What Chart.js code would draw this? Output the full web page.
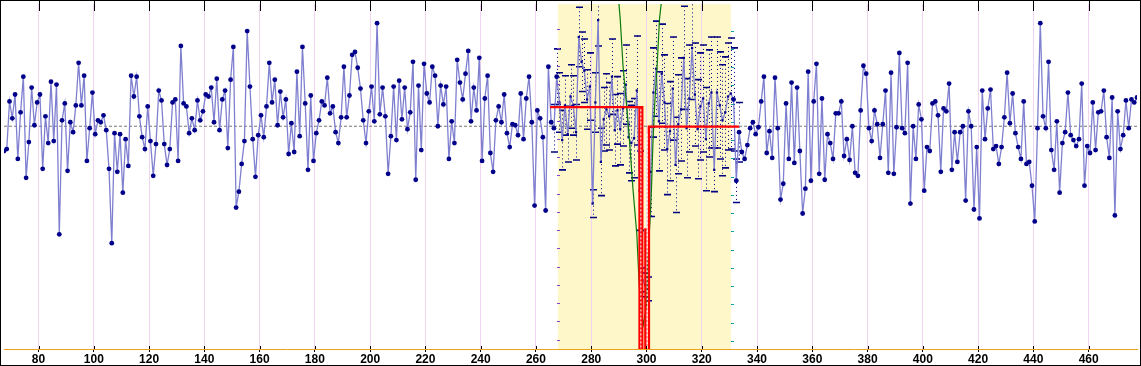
<!DOCTYPE html>
<html><head><meta charset="utf-8">
<script src="https://cdn.jsdelivr.net/npm/chart.js@4.4.1/dist/chart.umd.min.js"></script>
<style>html,body{margin:0;padding:0;background:#fff;overflow:hidden}canvas{display:block}</style>
</head><body><canvas id="c" width="1141" height="366"></canvas>
<script>
// ---- data ----
const firstX = 67.5;           // x of first observation, one observation per unit
const segment1 = [-25,-23,25,8,32,-33,14,50,-52,-16,39,1,24,32,-43,10,-17,45,-15,42,
  -109,6,23,-45,4,-6,21,64,21,51,-35,-2,34,-8,6,4,11,-4,-43,-118,
  -7,-46,-8,-67,-13,-40,51,30,50,10,-11,-23,20,-15,-50,-18,36,26,-18,-39,
  -23,24,27,-35,81,23,20,-7,8,-4,26,6,15];
const segment2 = [32,30,39,4,48,-4,27,36,-22,47,80,-82,-66,-38,-15,96,40,-13,-51,-9,
  11,-11,20,64,24,47,1,35,9,27,-28,3,-26,55,-10,80,23,-44,31,-35,
  -7,6,25,21,49,13,20,-6,-17,9,60,9,31,72,75,59,38,6,-17,15,
  40,5,104,12,39,10,-48,-10,40,-14];
const segment3 = [46,7,39,-3,14,65,-54,41,-24,63,33,24,60,51,0,41,22,40,-33,5,
  -17,67,44,27,53,76,5,39,16,69,-35,28,51,-27,-46,6,20,4,32,-7,
  -21,2,1,-9,33,-13,28,50,4,-80,16,8,-11,-85,60,4];
const eclipse = [-2,50,24,-14,21,-8,30,21,-6,90,65,56,27,40,-78,24,107,-36,7,17,
  10,50,-4,16,-3,18,42,-11,-17,-12,36,-65,
  -155,-160,-164,
  -46,34,58,5,53,24,-23,-5,38,-39,2,17,69,-2,28,79,32,-3,20,28,
  -13,23,34,-44,34,21,6,14,30,33,27,-55,-6];
const eclipseErr = [24,28,30,30,30,28,32,30,28,30,30,32,30,34,14,30,26,34,32,36,
  34,38,36,34,36,38,40,36,38,40,55,40,
  12,12,12,
  45,45,48,50,50,48,46,50,52,48,50,52,52,50,54,52,52,50,54,54,
  52,54,56,22,56,54,56,56,54,56,52,22,30];
const segment4 = [-26,-33,-19,-2,4,-8,-1,25,50,-27,-5,-32,49,-2,-74,-58,23,-33,44,-37,
  39,-25,-88,-63,55,-55,25,63,-48,28,-54,-8,-17,-33,13,13,25,-30,-13,-34,
  0,-47,-50,16,61,53,-2,-15,16,2,-32,2,36,-47,54,-48,-1,74,-2,-7,64];
const segment5 = [-78,0,-33,22,7,-65,-21,-25,23,25,11,-46,18,15,43,-44,-6,-36,-6,0,
  -75,15,0,-84,-21,-93,36,-13,18,37,-23,-20,-38,-21,9,54,3,33,-7,-21,
  -33,25,-38,-36,-60,-96,-2,104,10,-2,65,-24,-44,5,-67,-17,-6,34,-9,-14,
  -20,-13,43,-60,-20,-27,24,-24,14,15,36,-11,-32,29,-90,15,-23,-9,26,-2,27,24,29];

const modelX = [265.1,298.46,298.46,null,297.49,297.49,null,299.6,299.6,null,300.87,300.87,333.5];
const modelY = [19.3,19.3,-240,null,19.3,-240,null,-103,-240,null,-240,-0.4,-0.4];
const gapX = [297.98,297.98,null,300.24,300.24];
const gapY = [17,-240,null,-8,-240];
const curveX = [289.9,290.5,291.5,292.7,293.9,295.1,296.5,297.3,297.9,298.9,300.0,300.6,301.3,301.8,302.3,303.0,303.8,304.7,305.5];
const curveY = [128,108,61,24,-16,-63,-109,-156,-185,-200,-180,-130,-93,-63,-19,24,58,108,128];

const xTicks = [80,100,120,140,160,180,200,220,240,260,280,300,320,340,360,380,400,420,440,460];
const xMin = 67.5, xMax = 477.5, yMin = -224.7, yMax = 123.3;
const regionStart = 267.94, regionEnd = 330.53;
const leftMarkStart = 97.6, rightMarkStart = 96.4, markStep = 18.4;

// ---- build ----
const allVals = segment1.concat(segment2, segment3, eclipse, segment4, segment5);
const obsPts = allVals.map((v, i) => ({x: firstX + i, y: v}));
const eclipseOffset = segment1.length + segment2.length + segment3.length;
const toPts = (xs, ys) => xs.map((x, i) => ({x: x === null ? NaN : x, y: ys[i]}));
const modelPts = toPts(modelX, modelY);
const gapPts = toPts(gapX, gapY);
const curvePts = toPts(curveX, curveY);
const inRegion = x => x >= regionStart && x <= regionEnd + 0.8;

const decor = {
  id: 'decor',
  beforeDraw(chart) {
    const {ctx, chartArea: a, scales: {x}} = chart;
    ctx.save();
    ctx.fillStyle = '#fff';
    ctx.fillRect(0, 0, chart.width, chart.height);
    ctx.fillStyle = '#fdf7c9';
    const x0 = x.getPixelForValue(regionStart), x1 = x.getPixelForValue(regionEnd);
    ctx.fillRect(x0, a.top, x1 - x0, a.bottom - a.top);
    ctx.restore();
  },
  beforeDatasetsDraw(chart) {
    const {ctx, chartArea: a, scales: {x, y}} = chart;
    ctx.save();
    ctx.beginPath(); ctx.rect(a.left, a.top, a.right - a.left, a.bottom - a.top); ctx.clip();
    ctx.strokeStyle = '#000080';
    eclipse.forEach((v, i) => {
      const px = Math.round(x.getPixelForValue(firstX + eclipseOffset + i)) + 0.5;
      const t = y.getPixelForValue(v + eclipseErr[i]);
      const b = y.getPixelForValue(v - eclipseErr[i]);
      ctx.setLineDash([1, 3]); ctx.lineWidth = 1;
      ctx.beginPath(); ctx.moveTo(px, t); ctx.lineTo(px, b); ctx.stroke();
      ctx.setLineDash([]); ctx.lineWidth = 1.6;
      ctx.beginPath();
      ctx.moveTo(px - 3.5, t); ctx.lineTo(px + 3.5, t);
      ctx.moveTo(px - 3.5, b); ctx.lineTo(px + 3.5, b);
      ctx.stroke();
    });
    ctx.restore();
  },
  afterDraw(chart) {
    const {ctx, chartArea: a, scales: {x, y}} = chart;
    ctx.save();
    const lx = Math.round(x.getPixelForValue(regionStart));
    const rx = Math.round(x.getPixelForValue(regionEnd));
    ctx.fillStyle = '#8040d0';
    for (let v = leftMarkStart; v > yMin; v -= markStep) {
      ctx.fillRect(lx - 1, Math.round(y.getPixelForValue(v)), 3, 1);
    }
    ctx.fillStyle = '#10a0a0';
    for (let v = rightMarkStart; v > yMin; v -= markStep) {
      ctx.fillRect(rx, Math.round(y.getPixelForValue(v)), 3, 1);
    }
    ctx.strokeStyle = '#000'; ctx.lineWidth = 1;
    ctx.beginPath();
    xTicks.forEach(t => {
      const px = Math.round(x.getPixelForValue(t)) + 0.5;
      ctx.moveTo(px, 0); ctx.lineTo(px, 11);
      ctx.moveTo(px, a.bottom - 3); ctx.lineTo(px, a.bottom);
    });
    ctx.stroke();
    ctx.strokeRect(0.5, 0.5, chart.width - 1, chart.height - 1);
    ctx.restore();
  }
};

new Chart(document.getElementById('c'), {
  type: 'scatter',
  data: { datasets: [
    { data: gapPts, showLine: true, borderColor: '#ffffff', borderDash: [2, 2], borderWidth: 1, pointRadius: 0, spanGaps: false },
    { data: modelPts, showLine: true, borderColor: '#ff0000', borderWidth: 2.4, pointRadius: 0, spanGaps: false },
    { data: curvePts, showLine: true, borderColor: '#0a7a0a', borderWidth: 1.2, pointRadius: 0 },
    { data: obsPts, showLine: true, borderColor: '#7f7fd0', borderWidth: 1.3,
      pointRadius: c => (c.raw && inRegion(c.raw.x)) ? 1.6 : 2.4,
      pointStyle: c => (c.raw && inRegion(c.raw.x)) ? 'rect' : 'circle',
      pointBackgroundColor: '#00008b', pointBorderColor: '#00008b', pointBorderWidth: 0 },
    { data: [{x: xMin, y: 0}, {x: xMax, y: 0}], showLine: true, borderColor: '#777', borderDash: [3, 2], borderWidth: 1, pointRadius: 0 }
  ]},
  options: {
    responsive: false, animation: false, devicePixelRatio: 1,
    layout: { padding: { left: 1, right: 2, top: 1, bottom: 0 } },
    plugins: { legend: { display: false }, tooltip: { enabled: false } },
    scales: {
      x: { type: 'linear', min: xMin, max: xMax,
        afterBuildTicks: s => { s.ticks = xTicks.map(v => ({value: v})); },
        afterFit: s => { s.height = 17; },
        grid: { color: '#f0d4f0', tickColor: '#000', tickLength: 3 },
        border: { color: '#f0a020', width: 1 },
        ticks: { color: '#000', padding: 0, maxRotation: 0, autoSkip: false,
          font: { family: '"Liberation Sans Narrow", "Liberation Sans", Arial, sans-serif', size: 12, weight: 'bold' } } },
      y: { display: false, min: yMin, max: yMax }
    }
  },
  plugins: [decor]
});
</script>
</body></html>
